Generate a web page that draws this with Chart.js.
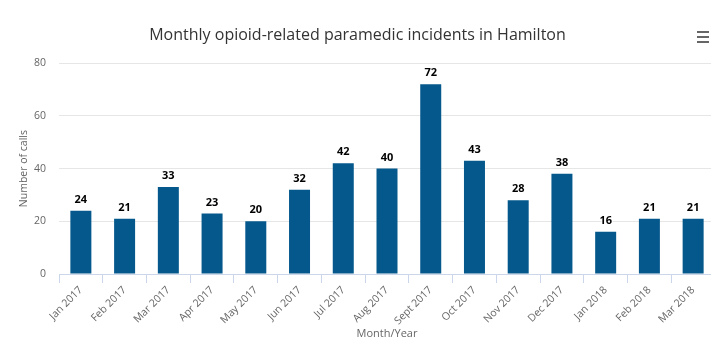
<!DOCTYPE html>
<html>
<head>
<meta charset="utf-8">
<script src="https://cdn.jsdelivr.net/npm/chart.js@4"></script>
<style>
    html, body { margin: 0; padding: 0; background: #fff; overflow: hidden; }
    #wrap { width: 715px; height: 343px; }
</style>
</head>
<body>
<div id="wrap"><canvas id="opioidChart"></canvas></div>
<script>
const months = ['Jan 2017', 'Feb 2017', 'Mar 2017', 'Apr 2017', 'May 2017', 'Jun 2017', 'Jul 2017', 'Aug 2017',
    'Sept 2017', 'Oct 2017', 'Nov 2017', 'Dec 2017', 'Jan 2018', 'Feb 2018', 'Mar 2018'];
const calls = [24, 21, 33, 23, 20, 32, 42, 40, 72, 43, 28, 38, 16, 21, 21];
const yTicks = [0, 20, 40, 60, 80];

(() => {
    const FONT = '"Open Sans", "DejaVu Sans", sans-serif';

    // numbers above each bar
    const barLabels = {
        id: 'barLabels',
        afterDatasetsDraw(chart) {
            const ctx = chart.ctx;
            const meta = chart.getDatasetMeta(0);
            ctx.save();
            ctx.font = 'bold 11px ' + FONT;
            ctx.textAlign = 'center';
            ctx.textBaseline = 'middle';
            meta.data.forEach((bar, i) => {
                const y = bar.y - 11;
                ctx.lineWidth = 2;
                ctx.strokeStyle = '#fff';
                ctx.strokeText(calls[i], bar.x, y);
                ctx.fillStyle = '#000';
                ctx.fillText(calls[i], bar.x, y);
            });
            ctx.restore();
        }
    };

    // hamburger menu icon in the top right
    const menuIcon = {
        id: 'menuIcon',
        afterDraw(chart) {
            const ctx = chart.ctx;
            ctx.save();
            ctx.strokeStyle = '#666';
            ctx.lineWidth = 2;
            [32, 37, 42].forEach(y => {
                ctx.beginPath();
                ctx.moveTo(697, y);
                ctx.lineTo(709, y);
                ctx.stroke();
            });
            ctx.restore();
        }
    };

    new Chart(document.getElementById('opioidChart'), {
        type: 'bar',
        data: {
            labels: months,
            datasets: [{
                data: calls,
                backgroundColor: '#04588c',
                barPercentage: 0.48,
                categoryPercentage: 1
            }]
        },
        options: {
            responsive: true,
            maintainAspectRatio: false,
            animation: false,
            layout: { padding: 0 },
            plugins: {
                legend: { display: false },
                tooltip: { enabled: false },
                title: {
                    display: true,
                    text: 'Monthly opioid-related paramedic incidents in Hamilton',
                    color: '#333',
                    font: { family: FONT, size: 16, weight: 'normal' },
                    padding: { top: 26, bottom: 18 }
                }
            },
            scales: {
                x: {
                    grid: {
                        drawOnChartArea: false,
                        drawTicks: true,
                        tickLength: 9,
                        color: '#ccd6eb'
                    },
                    border: { color: '#ccd6eb' },
                    ticks: {
                        color: '#666',
                        font: { family: FONT, size: 10.5 },
                        minRotation: 45,
                        maxRotation: 45,
                        padding: 1,
                        autoSkip: false
                    },
                    title: {
                        display: true,
                        text: 'Month/Year',
                        color: '#666',
                        font: { family: FONT, size: 11 },
                        padding: { top: 0, bottom: 3 }
                    },
                    afterFit(scale) { scale.height = 69; }
                },
                y: {
                    min: 0,
                    max: 80,
                    afterBuildTicks(scale) { scale.ticks = yTicks.map(v => ({ value: v })); },
                    grid: { color: '#e6e6e6', drawTicks: false },
                    border: { display: false },
                    ticks: {
                        color: '#666',
                        font: { family: FONT, size: 10.5 },
                        padding: 13
                    },
                    title: {
                        display: true,
                        text: 'Number of calls',
                        color: '#666',
                        font: { family: FONT, size: 10.5 },
                        padding: { top: 18, bottom: 0 }
                    },
                    afterFit(scale) { scale.width = 59; }
                }
            }
        },
        plugins: [barLabels, menuIcon]
    });
})();
</script>
</body>
</html>
